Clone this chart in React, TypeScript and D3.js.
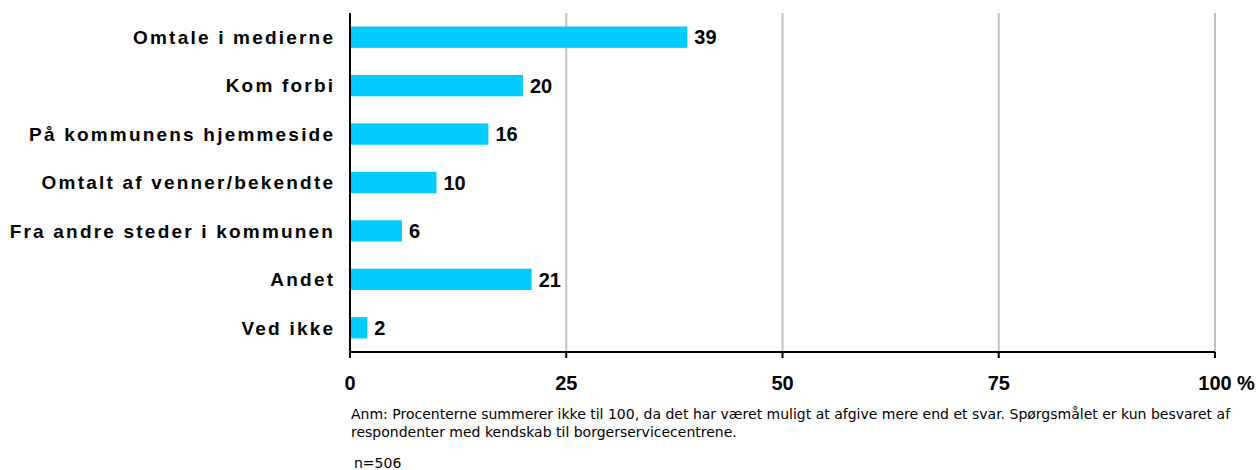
import React from "react";
import * as d3 from "d3";

const categories = [
  "Omtale i medierne",
  "Kom forbi",
  "På kommunens hjemmeside",
  "Omtalt af venner/bekendte",
  "Fra andre steder i kommunen",
  "Andet",
  "Ved ikke",
];
const values = [39, 20, 16, 10, 6, 21, 2];
const ticks = [0, 25, 50, 75, 100];
const noteLines = [
  "Anm: Procenterne summerer ikke til 100, da det har været muligt at afgive mere end et svar. Spørgsmålet er kun besvaret af",
  "respondenter med kendskab til borgerservicecentrene.",
];
const nText = "n=506";

const W = 1257;
const H = 470;
const left = 350;
const right = 1215;
const top = 13;
const bottom = 352;

export default function App() {
  const x = d3.scaleLinear().domain([0, 100]).range([left, right]);
  const y = d3
    .scaleBand<string>()
    .domain(categories)
    .range([top, bottom])
    .paddingInner(0.56)
    .paddingOuter(0.28);
  const font = "Liberation Sans, Arial, sans-serif";
  const noteFont = "DejaVu Sans, Verdana, sans-serif";
  return (
    <svg
      width={W}
      height={H}
      style={{ position: "absolute", left: 0, top: 0, display: "block" }}
    >
      <rect x={0} y={0} width={W} height={H} fill="#fff" />
      {ticks.slice(1).map((t) => (
        <line
          key={"g" + t}
          x1={x(t)}
          x2={x(t)}
          y1={top}
          y2={bottom}
          stroke="#c0c0c0"
          strokeWidth={2}
        />
      ))}
      {categories.map((c, i) => (
        <g key={c}>
          <rect
            x={x(0)}
            y={y(c)!}
            width={x(values[i]) - x(0)}
            height={y.bandwidth()}
            fill="#00CCFF"
          />
          <text
            x={x(values[i]) + 7}
            y={y(c)! + y.bandwidth() / 2}
            dy="0.36em"
            fontFamily={font}
            fontWeight="bold"
            fontSize={20}
            fill="#000"
          >
            {values[i]}
          </text>
          <text
            x={335.2}
            y={y(c)! + y.bandwidth() / 2}
            dy="0.36em"
            textAnchor="end"
            fontFamily={font}
            fontWeight="bold"
            fontSize={19}
            letterSpacing={2.2}
            fill="#000"
          >
            {c}
          </text>
        </g>
      ))}
      <line x1={left} x2={left} y1={top} y2={bottom + 5} stroke="#000" strokeWidth={2} />
      <line x1={left} x2={right} y1={bottom} y2={bottom} stroke="#000" strokeWidth={2} />
      {ticks.map((t) => (
        <g key={"t" + t}>
          <line x1={x(t)} x2={x(t)} y1={bottom} y2={bottom + 6} stroke="#000" strokeWidth={2} />
          <text
            x={x(t)}
            y={390}
            textAnchor="middle"
            fontFamily={font}
            fontWeight="bold"
            fontSize={20}
            fill="#000"
          >
            {t}
          </text>
        </g>
      ))}
      <text x={x(100) + 22} y={390} fontFamily={font} fontWeight="bold" fontSize={20} fill="#000">
        %
      </text>
      {noteLines.map((l, i) => (
        <text key={i} x={351} y={419 + i * 18} fontFamily={noteFont} fontSize={14} fill="#000">
          {l}
        </text>
      ))}
      <text x={354} y={468} fontFamily={noteFont} fontSize={14} fill="#000">
        {nText}
      </text>
    </svg>
  );
}
